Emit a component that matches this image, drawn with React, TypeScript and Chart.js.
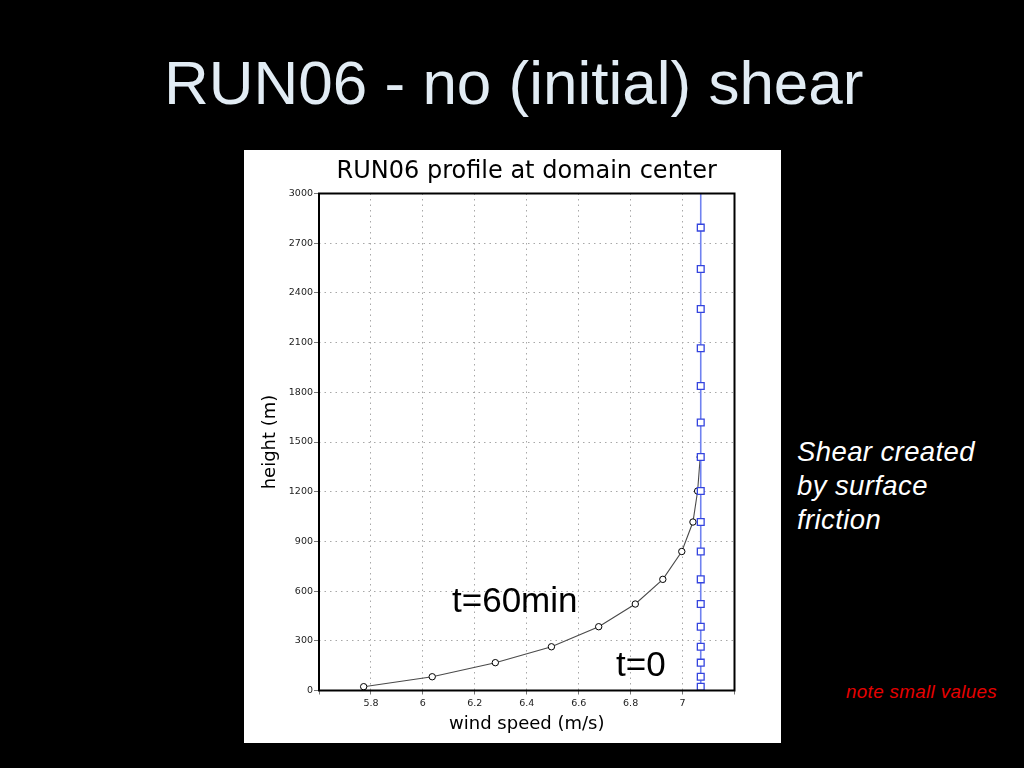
import React, { useEffect, useRef } from "react";
import { Chart, registerables } from "chart.js";

Chart.register(...registerables);

// Model levels (m) where markers are drawn
const t0Heights = [23, 83, 168, 264, 385, 522, 671, 839, 1017, 1204, 1409, 1618, 1838, 2066, 2303, 2544, 2794];
// Initial (t=0) wind speed: uniform, no shear
const t0Speeds = [7.07, 7.07, 7.07, 7.07, 7.07, 7.07, 7.07, 7.07, 7.07, 7.07, 7.07, 7.07, 7.07, 7.07, 7.07, 7.07, 7.07];
// Full-height extent of the t=0 profile line
const t0LineHeights = [0, 3000];
const t0LineSpeeds = [7.07, 7.07];
// t=60min profile
const t60Heights = [23, 83, 168, 264, 385, 522, 671, 839, 1017, 1204, 1409];
const t60Speeds = [5.772, 6.036, 6.279, 6.495, 6.677, 6.818, 6.924, 6.997, 7.04, 7.058, 7.068];

const xMin = 5.6;
const xMax = 7.2;
const xStep = 0.2;
const yMin = 0;
const yMax = 3000;
const yStep = 300;
const hiddenXLabels = [5.6, 7.2];

const chartTitle = "RUN06 profile at domain center";
const xTitle = "wind speed (m/s)";
const yTitle = "height (m)";

const BLUE_LINE = "rgb(112,130,240)";
const BLUE_MARK = "rgb(52,68,222)";

const framePlugin = {
  id: "frame",
  afterDraw(chart: any) {
    const { ctx, chartArea } = chart;
    ctx.save();
    ctx.strokeStyle = "#000";
    ctx.lineWidth = 2;
    ctx.strokeRect(chartArea.left, chartArea.top, chartArea.right - chartArea.left, chartArea.bottom - chartArea.top);
    ctx.restore();
  },
};

function ProfileChart() {
  const ref = useRef<HTMLCanvasElement | null>(null);
  useEffect(() => {
    if (!ref.current) return;
    const tickFont = { family: "DejaVu Sans", size: 9.5 };
    const chart = new Chart(ref.current, {
      type: "scatter",
      data: {
        datasets: [
          {
            label: "t=0 markers",
            data: t0Heights.map((h, i) => ({ x: t0Speeds[i], y: h })),
            showLine: false,
            pointStyle: "rect",
            pointRadius: 4.8,
            pointBorderWidth: 1.3,
            pointBorderColor: BLUE_MARK,
            pointBackgroundColor: "#fff",
            order: 0,
          },
          {
            label: "t=0 line",
            data: t0LineHeights.map((h, i) => ({ x: t0LineSpeeds[i], y: h })),
            showLine: true,
            borderColor: BLUE_LINE,
            borderWidth: 1.6,
            pointRadius: 0,
            order: 1,
          },
          {
            label: "t=60min",
            data: t60Heights.map((h, i) => ({ x: t60Speeds[i], y: h })),
            showLine: true,
            borderColor: "#4a4a4a",
            borderWidth: 1.1,
            pointStyle: "circle",
            pointRadius: 3.2,
            pointBorderWidth: 1,
            pointBorderColor: "#000",
            pointBackgroundColor: "#fff",
            order: 2,
          },
        ],
      },
      options: {
        animation: false,
        responsive: false,
        devicePixelRatio: 1,
        layout: { padding: { left: 0, right: 46.5, top: 0, bottom: 0 } },
        plugins: {
          legend: { display: false },
          tooltip: { enabled: false },
          title: {
            display: true,
            text: chartTitle,
            fullSize: false,
            color: "#000",
            font: { family: "DejaVu Sans", size: 24, weight: "normal" },
            padding: { top: 7, bottom: 7.7 },
          },
        },
        scales: {
          x: {
            type: "linear",
            min: xMin,
            max: xMax,
            afterFit: (s: any) => {
              s.height = 52.5;
            },
            ticks: {
              stepSize: xStep,
              color: "#222",
              font: tickFont,
              padding: 3,
              maxRotation: 0,
              autoSkip: false,
              callback: (v: any) => {
                const r = Math.round(Number(v) * 10) / 10;
                return hiddenXLabels.includes(r) ? "" : String(r);
              },
            },
            grid: {
              color: "#a8a8a8",
              lineWidth: 1,
              tickLength: 4,
              tickColor: "#777",
              borderDash: [1.5, 4],
            } as any,
            border: { display: false, dash: [1.5, 4] },
            title: {
              display: true,
              text: xTitle,
              color: "#000",
              font: { family: "DejaVu Sans", size: 18 },
              padding: { top: 0, bottom: 8 },
            },
          },
          y: {
            type: "linear",
            min: yMin,
            max: yMax,
            afterFit: (s: any) => {
              s.width = 75;
            },
            ticks: {
              stepSize: yStep,
              color: "#222",
              font: tickFont,
              padding: 1,
              autoSkip: false,
              callback: (v: any) => String(v),
            },
            grid: {
              color: "#a8a8a8",
              lineWidth: 1,
              tickLength: 5,
              tickColor: "#777",
              borderDash: [1.5, 4],
            } as any,
            border: { display: false, dash: [1.5, 4] },
            title: {
              display: true,
              text: yTitle,
              color: "#000",
              font: { family: "DejaVu Sans", size: 18 },
              padding: { top: 16, bottom: 0 },
            },
          },
        },
      },
      plugins: [framePlugin],
    } as any);
    return () => chart.destroy();
  }, []);
  return <canvas ref={ref} width={537} height={593} style={{ display: "block", width: 537, height: 593 }} />;
}

export default function App() {
  const sans = "'Liberation Sans', Arial, Helvetica, sans-serif";
  return (
    <div
      style={{
        position: "absolute",
        left: 0,
        top: 0,
        width: 1024,
        height: 768,
        background: "#000",
        overflow: "hidden",
        fontFamily: sans,
      }}
    >
      <div
        style={{
          position: "absolute",
          left: 164,
          top: 51.5,
          fontSize: 62,
          lineHeight: 1,
          color: "#e2ecf4",
          whiteSpace: "nowrap",
        }}
      >
        RUN06 - no (initial) shear
      </div>
      <div
        style={{
          position: "absolute",
          left: 244,
          top: 150,
          width: 537,
          height: 593,
          background: "#fff",
        }}
      >
        <ProfileChart />
      </div>
      <div
        style={{
          position: "absolute",
          left: 452,
          top: 582,
          fontSize: 35,
          lineHeight: 1,
          color: "#000",
          whiteSpace: "nowrap",
        }}
      >
        t=60min
      </div>
      <div
        style={{
          position: "absolute",
          left: 616,
          top: 645.5,
          fontSize: 35,
          lineHeight: 1,
          color: "#000",
          whiteSpace: "nowrap",
        }}
      >
        t=0
      </div>
      <div
        style={{
          position: "absolute",
          left: 797,
          top: 434.5,
          fontSize: 27.5,
          lineHeight: "34.3px",
          fontStyle: "italic",
          color: "#fff",
          letterSpacing: 0.4,
          whiteSpace: "nowrap",
        }}
      >
        Shear created
        <br />
        by surface
        <br />
        friction
      </div>
      <div
        style={{
          position: "absolute",
          left: 846,
          top: 683,
          fontSize: 18.8,
          lineHeight: 1,
          fontStyle: "italic",
          color: "#e60000",
          letterSpacing: 0.35,
          whiteSpace: "nowrap",
        }}
      >
        note small values
      </div>
    </div>
  );
}
